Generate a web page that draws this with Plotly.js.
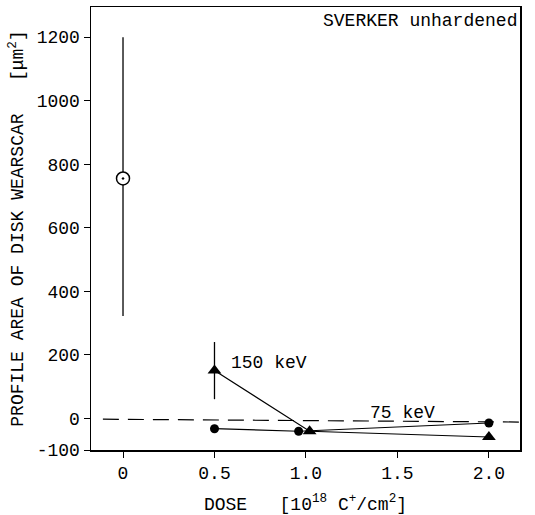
<!DOCTYPE html>
<html>
<head>
<meta charset="utf-8">
<script src="https://cdn.plot.ly/plotly-3.0.1.min.js"></script>
<style>html,body{margin:0;padding:0;background:#fff;}</style>
</head>
<body>
<div id="chart" style="width:535px;height:515px;"></div>
<script>
// Unhardened reference point
var unhardDose = [0];
var unhardArea = [755];
var unhardErrPlus = [445];
var unhardErrMinus = [433];

// 150 keV series (triangles)
var dose150 = [0.5, 1.02, 2.0];
var area150 = [150, -41, -59];
var err150 = [90, 0, 0];

// 75 keV series (filled circles)
var dose75 = [0.5, 0.96, 2.0];
var area75 = [-33, -41, -15];
var err75 = [12, 0, 0];

// Dashed reference line (zero level)
var refDose = [-0.11, 2.17];
var refArea = [-3, -12];

var xTickVals = [0, 0.5, 1.0, 1.5, 2.0];
var xTickText = ['0', '0.5', '1.0', '1.5', '2.0'];
var yTickVals = [-100, 0, 200, 400, 600, 800, 1000, 1200];
var yTickText = ['-100', '0', '200', '400', '600', '800', '1000', '1200'];

var mono = 'Courier New, Liberation Mono, monospace';

var traces = [
  {x: refDose, y: refArea, mode: 'lines', line: {color: '#000', width: 1.2, dash: '16px,9px'}, hoverinfo: 'skip'},
  {x: unhardDose, y: unhardArea, mode: 'markers',
   marker: {symbol: 'circle-dot', size: 13, color: '#fff', line: {color: '#000', width: 1.5}},
   error_y: {type: 'data', symmetric: false, array: unhardErrPlus, arrayminus: unhardErrMinus, color: '#000', thickness: 1.3, width: 0}},
  {x: dose150, y: area150, mode: 'lines+markers',
   line: {color: '#000', width: 1.2},
   marker: {symbol: 'triangle-up', size: 12, color: '#000'},
   error_y: {type: 'data', array: err150, color: '#000', thickness: 1.3, width: 0}},
  {x: dose75, y: area75, mode: 'lines+markers',
   line: {color: '#000', width: 1.2},
   marker: {symbol: 'circle', size: 9, color: '#000'},
   error_y: {type: 'data', array: err75, color: '#000', thickness: 1.3, width: 0}}
];

var layout = {
  width: 535, height: 515,
  margin: {l: 91, r: 15, t: 7, b: 65},
  paper_bgcolor: '#fff', plot_bgcolor: '#fff',
  showlegend: false,
  font: {family: mono, size: 18, color: '#000'},
  xaxis: {
    range: [-0.175, 2.17],
    tickvals: xTickVals, ticktext: xTickText,
    ticks: 'outside', ticklen: 6, tickwidth: 1, tickcolor: '#000',
    showgrid: false, zeroline: false,
    showline: true, linecolor: '#000', linewidth: 1.5, mirror: true,
    tickfont: {family: mono, size: 18},
    title: {text: 'DOSE\u00A0\u00A0\u00A0[10<sup>18</sup> C<sup>+</sup>/cm<sup>2</sup>]', font: {family: mono, size: 18}, standoff: 18}
  },
  yaxis: {
    range: [-100, 1295],
    tickvals: yTickVals, ticktext: yTickText,
    ticks: 'outside', ticklen: 6, tickwidth: 1, tickcolor: '#000',
    showgrid: false, zeroline: false,
    showline: true, linecolor: '#000', linewidth: 1.5, mirror: true,
    tickfont: {family: mono, size: 18},
    title: {text: 'PROFILE AREA OF DISK WEARSCAR\u00A0\u00A0\u00A0[\u03BCm<sup>2</sup>]', font: {family: mono, size: 18}, standoff: 8}
  },
  annotations: [
    {xref: 'paper', yref: 'paper', x: 0.997, y: 0.995, xanchor: 'right', yanchor: 'top', text: 'SVERKER unhardened', showarrow: false, font: {family: mono, size: 18}},
    {xref: 'x', yref: 'y', x: 0.58, y: 175, xanchor: 'left', yanchor: 'middle', text: '150 keV', showarrow: false, font: {family: mono, size: 18}},
    {xref: 'x', yref: 'y', x: 1.34, y: 16, xanchor: 'left', yanchor: 'middle', text: '75 keV', showarrow: false, font: {family: mono, size: 18}}
  ]
};

Plotly.newPlot('chart', traces, layout, {displayModeBar: false, staticPlot: true});
</script>
</body>
</html>
